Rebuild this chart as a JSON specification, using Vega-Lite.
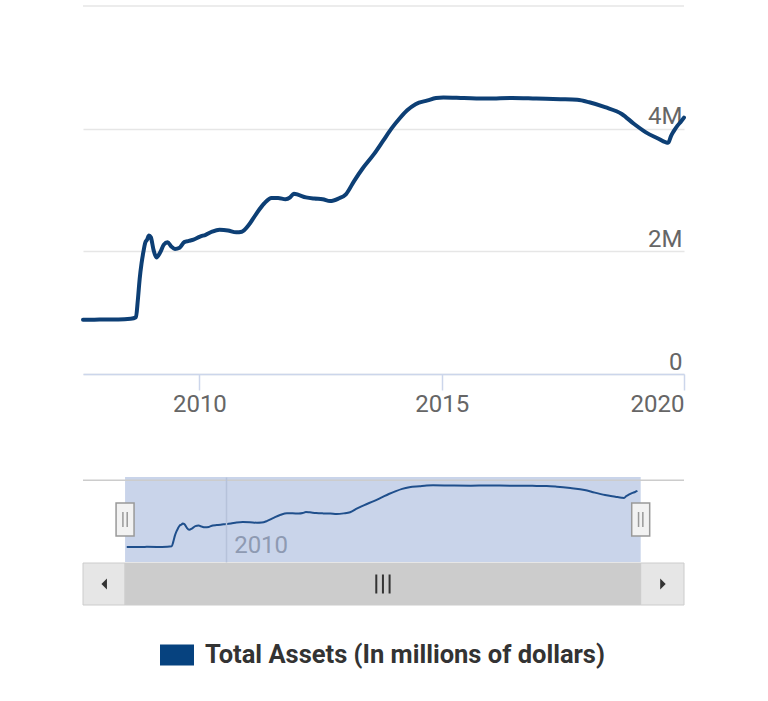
{
  "$schema": "https://vega.github.io/schema/vega-lite/v6.json",
  "padding": {"left": 81, "top": 5, "right": 0, "bottom": 0},
  "background": "white",
  "config": {"font": "Roboto", "view": {"stroke": null}},
  "data": {"values": [
    {"date": "2007-08-08", "value": 885000},
    {"date": "2007-11-01", "value": 886000},
    {"date": "2008-02-01", "value": 890000},
    {"date": "2008-05-01", "value": 889000},
    {"date": "2008-08-01", "value": 900000},
    {"date": "2008-09-10", "value": 925000},
    {"date": "2008-09-24", "value": 1200000},
    {"date": "2008-10-08", "value": 1550000},
    {"date": "2008-10-22", "value": 1800000},
    {"date": "2008-11-05", "value": 1990000},
    {"date": "2008-11-19", "value": 2140000},
    {"date": "2008-12-03", "value": 2190000},
    {"date": "2008-12-17", "value": 2260000},
    {"date": "2008-12-31", "value": 2230000},
    {"date": "2009-01-21", "value": 2020000},
    {"date": "2009-02-11", "value": 1900000},
    {"date": "2009-03-11", "value": 1980000},
    {"date": "2009-04-08", "value": 2110000},
    {"date": "2009-05-06", "value": 2150000},
    {"date": "2009-06-03", "value": 2080000},
    {"date": "2009-07-01", "value": 2040000},
    {"date": "2009-08-05", "value": 2060000},
    {"date": "2009-09-09", "value": 2150000},
    {"date": "2009-10-14", "value": 2170000},
    {"date": "2009-11-18", "value": 2190000},
    {"date": "2010-01-06", "value": 2240000},
    {"date": "2010-02-17", "value": 2270000},
    {"date": "2010-04-07", "value": 2320000},
    {"date": "2010-06-02", "value": 2350000},
    {"date": "2010-08-04", "value": 2340000},
    {"date": "2010-10-06", "value": 2310000},
    {"date": "2010-11-17", "value": 2320000},
    {"date": "2011-01-05", "value": 2420000},
    {"date": "2011-03-02", "value": 2600000},
    {"date": "2011-05-04", "value": 2780000},
    {"date": "2011-06-29", "value": 2870000},
    {"date": "2011-08-17", "value": 2870000},
    {"date": "2011-10-12", "value": 2850000},
    {"date": "2011-11-16", "value": 2880000},
    {"date": "2011-12-14", "value": 2940000},
    {"date": "2012-01-18", "value": 2920000},
    {"date": "2012-03-14", "value": 2880000},
    {"date": "2012-05-16", "value": 2860000},
    {"date": "2012-07-18", "value": 2850000},
    {"date": "2012-09-12", "value": 2820000},
    {"date": "2012-11-14", "value": 2860000},
    {"date": "2013-01-09", "value": 2930000},
    {"date": "2013-03-13", "value": 3150000},
    {"date": "2013-05-15", "value": 3350000},
    {"date": "2013-08-07", "value": 3580000},
    {"date": "2013-10-16", "value": 3800000},
    {"date": "2013-12-18", "value": 4000000},
    {"date": "2014-02-19", "value": 4170000},
    {"date": "2014-04-16", "value": 4300000},
    {"date": "2014-06-18", "value": 4400000},
    {"date": "2014-09-17", "value": 4460000},
    {"date": "2014-11-19", "value": 4500000},
    {"date": "2015-01-14", "value": 4510000},
    {"date": "2015-06-17", "value": 4500000},
    {"date": "2015-12-16", "value": 4490000},
    {"date": "2016-06-15", "value": 4500000},
    {"date": "2016-12-14", "value": 4490000},
    {"date": "2017-06-14", "value": 4480000},
    {"date": "2017-10-18", "value": 4470000},
    {"date": "2018-01-17", "value": 4430000},
    {"date": "2018-05-16", "value": 4350000},
    {"date": "2018-09-19", "value": 4240000},
    {"date": "2018-12-19", "value": 4080000},
    {"date": "2019-03-20", "value": 3940000},
    {"date": "2019-06-19", "value": 3840000},
    {"date": "2019-08-14", "value": 3780000},
    {"date": "2019-09-04", "value": 3770000},
    {"date": "2019-09-25", "value": 3880000},
    {"date": "2019-10-16", "value": 3960000},
    {"date": "2019-11-13", "value": 4050000},
    {"date": "2019-12-11", "value": 4120000},
    {"date": "2020-01-01", "value": 4180000}
  ]},
  "resolve": {"scale": {"x": "independent", "y": "independent"}},
  "spacing": 61,
  "vconcat": [
    {
      "width": 601,
      "height": 368,
      "layer": [
        {
          "data": {"values": [{}]},
          "mark": {"type": "rule", "color": "#e6e6e6", "strokeWidth": 1.5},
          "encoding": {"y": {"datum": 6000000, "type": "quantitative", "scale": {"domain": [0, 6000000]}}}
        },
        {
          "mark": {"type": "line", "strokeWidth": 4, "interpolate": "monotone", "strokeJoin": "round", "strokeCap": "round"},
          "encoding": {
            "x": {
              "field": "date", "type": "temporal",
              "scale": {"type": "utc", "domain": [{"year": 2007, "month": 8, "date": 8, "utc": true}, {"year": 2020, "month": 1, "date": 1, "utc": true}]},
              "axis": {
                "values": [{"year": 2010, "utc": true}, {"year": 2015, "utc": true}, {"year": 2020, "utc": true}],
                "format": "%Y", "grid": false, "title": null,
                "domainColor": "#ccd6eb", "domainWidth": 1.5,
                "tickColor": "#ccd6eb", "tickWidth": 1.5, "tickSize": 16,
                "labelPadding": 2, "labelFontSize": 24, "labelColor": "#666666",
                "labelFlush": true, "labelFlushOffset": 0, "labelOverlap": false
              }
            },
            "y": {
              "field": "value", "type": "quantitative",
              "scale": {"domain": [0, 6000000]},
              "axis": {
                "orient": "right", "values": [0, 2000000, 4000000], "title": null,
                "grid": true, "gridColor": "#e6e6e6", "gridWidth": 1.5,
                "domain": false, "ticks": false, "tickSize": 0,
                "labelAlign": "right", "labelBaseline": "alphabetic",
                "labelPadding": -2, "labelOffset": -5,
                "labelFontSize": 24, "labelColor": "#666666",
                "labelExpr": "datum.value == 0 ? '0' : (datum.value / 1000000) + 'M'"
              }
            },
            "color": {
              "datum": "Total Assets (In millions of dollars)",
              "scale": {"range": ["#0d3f75"]},
              "legend": {
                "orient": "none", "legendX": 77, "legendY": 632,
                "title": null, "padding": 0,
                "symbolType": "M-1,-0.62H1V0.62H-1Z", "symbolSize": 1156,
                "symbolStrokeWidth": 0,
                "labelFontSize": 25.5, "labelFontWeight": "bold",
                "labelColor": "#333333", "labelLimit": 1000, "labelOffset": 11,
                "encode": {"symbols": {"update": {"fill": {"value": "#06427f"}, "stroke": {"value": "transparent"}}}}
              }
            }
          }
        }
      ]
    },
    {
      "spacing": 0,
      "resolve": {"scale": {"x": "independent", "y": "independent"}},
      "vconcat": [
        {
          "width": 601,
          "height": 85,
          "layer": [
            {
              "data": {"values": [{}]},
              "mark": {"type": "rect", "color": "#c9d4ea"},
              "encoding": {
                "x": {
                  "datum": {"year": 2007, "month": 7, "date": 24, "utc": true}, "type": "temporal",
                  "scale": {"type": "utc", "domain": [{"year": 2006, "month": 7, "date": 16, "utc": true}, {"year": 2021, "month": 2, "date": 17, "utc": true}]},
                  "axis": {
                    "values": [{"year": 2010, "utc": true}], "format": "%Y", "title": null,
                    "grid": true, "gridColor": "#b6c2da", "gridWidth": 1.5,
                    "domain": false, "ticks": false, "tickSize": 0,
                    "labelAlign": "left", "labelBaseline": "alphabetic",
                    "labelPadding": -9.5, "labelOffset": 8,
                    "labelFontSize": 24, "labelColor": "#8e9ab2", "zindex": 1
                  }
                },
                "x2": {"datum": {"year": 2020, "month": 1, "date": 30, "utc": true}}
              }
            },
            {
              "mark": {"type": "line", "color": "#1f4f8c", "strokeWidth": 2, "interpolate": "monotone"},
              "encoding": {
                "x": {"field": "date", "type": "temporal"},
                "y": {"field": "value", "type": "quantitative", "scale": {"domain": [430000, 4810000]}, "axis": null}
              }
            },
            {
              "data": {"values": [{}]},
              "mark": {"type": "rule", "color": "#cccccc", "strokeWidth": 1.5},
              "encoding": {"y": {"datum": 4810000, "type": "quantitative"}}
            },
            {
              "data": {"values": [{"date": "2007-07-24"}, {"date": "2020-01-30"}]},
              "mark": {"type": "point", "shape": "M-0.545,-1H0.545V1H-0.545Z", "size": 1089, "filled": true, "fill": "#f2f2f2", "stroke": "#999999", "strokeWidth": 1.5, "opacity": 1},
              "encoding": {"x": {"field": "date", "type": "temporal"}}
            },
            {
              "data": {"values": [{"date": "2007-07-24"}, {"date": "2020-01-30"}]},
              "mark": {"type": "point", "shape": "M-0.13,-0.45V0.45M0.13,-0.45V0.45", "size": 1089, "filled": false, "stroke": "#999999", "strokeWidth": 1.5, "opacity": 1},
              "encoding": {"x": {"field": "date", "type": "temporal"}}
            }
          ]
        },
        {
          "width": 601,
          "height": 42,
          "layer": [
            {
              "data": {"values": [{}]},
              "mark": {"type": "rect", "fill": "#e6e6e6", "stroke": "#cccccc", "strokeWidth": 1},
              "encoding": {
                "x": {
                  "datum": {"year": 2006, "month": 7, "date": 16, "utc": true}, "type": "temporal",
                  "scale": {"type": "utc", "domain": [{"year": 2006, "month": 7, "date": 16, "utc": true}, {"year": 2021, "month": 2, "date": 17, "utc": true}]},
                  "axis": null
                },
                "x2": {"datum": {"year": 2007, "month": 7, "date": 24, "utc": true}}
              }
            },
            {
              "data": {"values": [{}]},
              "mark": {"type": "rect", "fill": "#cccccc", "stroke": "#cccccc", "strokeWidth": 1},
              "encoding": {
                "x": {"datum": {"year": 2007, "month": 7, "date": 24, "utc": true}, "type": "temporal"},
                "x2": {"datum": {"year": 2020, "month": 1, "date": 30, "utc": true}}
              }
            },
            {
              "data": {"values": [{}]},
              "mark": {"type": "rect", "fill": "#e6e6e6", "stroke": "#cccccc", "strokeWidth": 1},
              "encoding": {
                "x": {"datum": {"year": 2020, "month": 1, "date": 30, "utc": true}, "type": "temporal"},
                "x2": {"datum": {"year": 2021, "month": 2, "date": 17, "utc": true}}
              }
            },
            {
              "data": {"values": [{}]},
              "mark": {"type": "point", "shape": "M0.5,-1L-0.5,0L0.5,1Z", "size": 121, "filled": true, "fill": "#333333", "strokeWidth": 0, "opacity": 1},
              "encoding": {"x": {"datum": {"year": 2007, "month": 1, "date": 20, "utc": true}, "type": "temporal"}}
            },
            {
              "data": {"values": [{}]},
              "mark": {"type": "point", "shape": "M-0.5,-1L0.5,0L-0.5,1Z", "size": 121, "filled": true, "fill": "#333333", "strokeWidth": 0, "opacity": 1},
              "encoding": {"x": {"datum": {"year": 2020, "month": 8, "date": 14, "utc": true}, "type": "temporal"}}
            },
            {
              "data": {"values": [{}]},
              "mark": {"type": "point", "shape": "M-0.7,-1V1M0,-1V1M0.7,-1V1", "size": 361, "filled": false, "stroke": "#333333", "strokeWidth": 2, "opacity": 1},
              "encoding": {"x": {"datum": {"year": 2013, "month": 10, "date": 27, "utc": true}, "type": "temporal"}}
            }
          ]
        }
      ]
    }
  ]
}
